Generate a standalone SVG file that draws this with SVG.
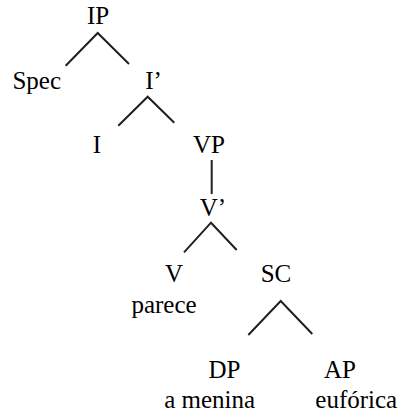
<svg xmlns="http://www.w3.org/2000/svg" width="400" height="413" viewBox="0 0 400 413">
  <style>
    .edge { stroke: #231f20; stroke-width: 2; fill: none; }
  </style>
  <rect width="400" height="413" fill="#ffffff"/>

  <!-- tree branches -->
  <g id="edges">
    <polyline class="edge" points="65.7,65.7 97.7,33 129,64"/>
    <polyline class="edge" points="118.3,125.7 147.7,96.7 174.3,122.7"/>
    <line class="edge" x1="211.7" y1="160" x2="211.7" y2="194"/>
    <polyline class="edge" points="184,252.3 211,222.7 236.7,250"/>
    <polyline class="edge" points="248.3,335 280.7,301 312.3,334"/>
  </g>

  <!-- tree nodes (labels placed by their left edge) -->
  <g id="node-IP"><text x="86.9" y="24" font-family="Liberation Serif" font-size="25">IP</text></g>
  <g id="node-Spec"><text x="12.4" y="88.5" font-family="Liberation Serif" font-size="25">Spec</text></g>
  <g id="node-Ibar"><text x="145.2" y="88.5" font-family="Liberation Serif" font-size="25">I&#8217;</text></g>
  <g id="node-I"><text x="92.8" y="153" font-family="Liberation Serif" font-size="25">I</text></g>
  <g id="node-VP"><text x="193" y="153" font-family="Liberation Serif" font-size="25">VP</text></g>
  <g id="node-Vbar"><text x="199.8" y="215.5" font-family="Liberation Serif" font-size="25">V&#8217;</text></g>
  <g id="node-V">
    <text x="165" y="281.5" font-family="Liberation Serif" font-size="25">V</text>
    <text x="131.4" y="313" font-family="Liberation Serif" font-size="25">parece</text>
  </g>
  <g id="node-SC"><text x="260.7" y="281.5" font-family="Liberation Serif" font-size="25">SC</text></g>
  <g id="node-DP">
    <text x="208.5" y="378" font-family="Liberation Serif" font-size="25">DP</text>
    <text x="164.2" y="408" font-family="Liberation Serif" font-size="25">a menina</text>
  </g>
  <g id="node-AP">
    <text x="324" y="378" font-family="Liberation Serif" font-size="25">AP</text>
    <text x="315.3" y="408" font-family="Liberation Serif" font-size="25">euf&#243;rica</text>
  </g>
</svg>
